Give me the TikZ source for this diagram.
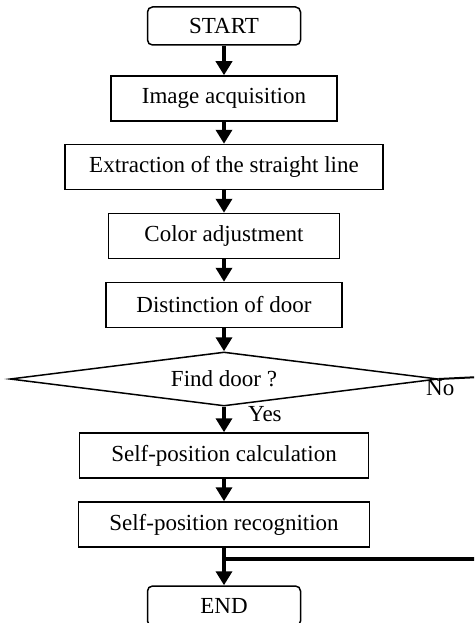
\documentclass[tikz,border=0pt]{standalone}
\usepackage{fontspec}
\setmainfont{Liberation Serif}
\usetikzlibrary{shapes.geometric, arrows.meta}

\begin{document}
\begin{tikzpicture}[
    x=1pt, y=-1pt,
    font=\fontsize{23}{27}\selectfont,
    box/.style={draw, line width=1.5pt, minimum height=45pt, minimum width=#1, inner sep=0pt},
    box/.default=234pt,
    term/.style={box=153pt, minimum height=38pt, rounded corners=5pt},
    decision/.style={diamond, aspect=8, draw, line width=1.5pt, minimum width=428pt, minimum height=54pt, inner sep=0pt},
    flow/.style={line width=3.5pt, -{Triangle[width=16pt,length=14pt]}},
    back/.style={line width=#1},
    back/.default=2pt
]

    % Frame
    \useasboundingbox (0,0) rectangle (474,623);
    \clip (0,0) rectangle (474,623);

    % Steps
    \node[term]      (start)    at (224, 26)    {START};
    \node[box=226pt] (acquire)  at (224, 98.5)  {Image acquisition};
    \node[box=318pt] (extract)  at (224, 167)   {Extraction of the straight line};
    \node[box=231pt] (color)    at (224, 236)   {Color adjustment};
    \node[box=236pt] (distinct) at (224, 305)   {Distinction of door};
    \node[decision]  (find)     at (224, 379)   {Find door ?};
    \node[box=289pt] (calc)     at (224, 455.5) {Self-position calculation};
    \node[box=291pt] (recog)    at (224, 524.5) {Self-position recognition};
    \node[term, minimum height=40pt] (finish) at (224, 606) {END};

    % Branch labels
    \node[anchor=base west, inner sep=0pt] (yes) at (248, 421) {Yes};
    \node[anchor=base west, inner sep=0pt] (no)  at (426, 395) {No};

    % Return path (leaves the page on the right)
    \coordinate (noturn)  at (480, 377);
    \coordinate (nodown)  at (480, 559);
    \coordinate (merge)   at (224, 559);

    % Main flow
    \draw[flow] (start)    -- (acquire);
    \draw[flow] (acquire)  -- (extract);
    \draw[flow] (extract)  -- (color);
    \draw[flow] (color)    -- (distinct);
    \draw[flow] (distinct) -- (find);
    \draw[flow] (find)     -- (calc);
    \draw[flow] (calc)     -- (recog);
    \draw[flow] (recog)    -- (finish);

    % No branch
    \draw[back] (find.east) -- (noturn) -- (nodown);
    \draw[back=3.5pt] (nodown) -- (merge);

\end{tikzpicture}
\end{document}
